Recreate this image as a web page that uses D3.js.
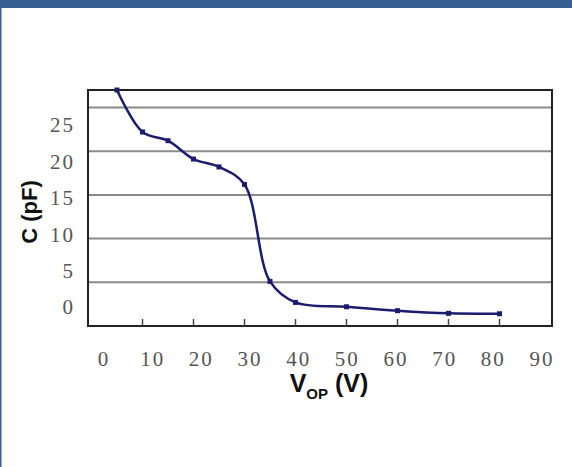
<!DOCTYPE html>
<html>
<head>
<meta charset="utf-8">
<script src="https://cdn.jsdelivr.net/npm/d3@7"></script>
<style>
  body { margin: 0; background: #fff; }
  svg { display: block; }
</style>
</head>
<body>
<div id="chart"></div>
<script>
// measured points, voltage (V) vs capacitance (pF)
const voltage = [5, 10, 15, 20, 25, 30, 35, 40, 50, 60, 70, 80];
const capacitance = [27.0, 22.2, 21.2, 19.1, 18.2, 16.2, 5.1, 2.7, 2.2, 1.75, 1.45, 1.4];
const gridValues = [5, 10, 15, 20, 25];
const xTickValues = [10, 20, 30, 40, 50, 60, 70, 80];
const xLabels = [0, 10, 20, 30, 40, 50, 60, 70, 80, 90];
const yLabels = [0, 5, 10, 15, 20, 25];

const width = 572, height = 467;
const box = { left: 88, right: 552, top: 90, bottom: 326 };

const svg = d3.select("#chart").append("svg")
    .attr("width", width)
    .attr("height", height);

// frame of the page
svg.append("rect").attr("x", 0).attr("y", 0).attr("width", width).attr("height", 8).attr("fill", "#375f91");
svg.append("rect").attr("x", 0).attr("y", 0).attr("width", 1.5).attr("height", height).attr("fill", "#375f91");

const x = d3.scaleLinear().domain([0, 90]).range([91.5, 550.5]);
const y = d3.scaleLinear().domain([0, 25]).range([box.bottom, 107.5]);

// the tick labels sit a bit off the grid in the original
const xLab = d3.scaleLinear().domain([0, 90]).range([104, 542]);
const yLab = d3.scaleLinear().domain([0, 25]).range([307, 125]);

// grid lines
svg.append("g").selectAll("line")
    .data(gridValues)
    .join("line")
    .attr("x1", box.left).attr("x2", box.right)
    .attr("y1", d => y(d)).attr("y2", d => y(d))
    .attr("stroke", "#8a8a8a")
    .attr("stroke-width", 2);

// plot border
svg.append("rect")
    .attr("x", box.left).attr("y", box.top)
    .attr("width", box.right - box.left)
    .attr("height", box.bottom - box.top)
    .attr("fill", "none")
    .attr("stroke", "#222")
    .attr("stroke-width", 2);

// x ticks pointing inside
svg.append("g").selectAll("line")
    .data(xTickValues)
    .join("line")
    .attr("x1", d => x(d)).attr("x2", d => x(d))
    .attr("y1", box.bottom).attr("y2", box.bottom - 7)
    .attr("stroke", "#444")
    .attr("stroke-width", 1.5);

// tick labels
svg.append("g").selectAll("text")
    .data(xLabels)
    .join("text")
    .attr("x", d => xLab(d))
    .attr("y", 366)
    .attr("text-anchor", "middle")
    .style("font-family", "'Liberation Serif', serif")
    .style("font-size", "21px")
    .style("letter-spacing", "2px")
    .attr("fill", "#555")
    .text(d => d);

svg.append("g").selectAll("text")
    .data(yLabels)
    .join("text")
    .attr("x", 75)
    .attr("y", d => yLab(d))
    .attr("dy", "0.35em")
    .attr("text-anchor", "end")
    .style("font-family", "'Liberation Serif', serif")
    .style("font-size", "21px")
    .style("letter-spacing", "2px")
    .attr("fill", "#555")
    .text(d => d);

// axis titles
svg.append("text")
    .attr("transform", "translate(37,212) rotate(-90)")
    .attr("text-anchor", "middle")
    .style("font-family", "'Liberation Sans', Arial, sans-serif")
    .style("font-weight", "bold")
    .style("font-size", "22px")
    .attr("fill", "#111")
    .text("C (pF)");

const xTitle = svg.append("text")
    .attr("x", 329)
    .attr("y", 392)
    .attr("text-anchor", "middle")
    .style("font-family", "'Liberation Sans', Arial, sans-serif")
    .style("font-weight", "bold")
    .style("font-size", "25px")
    .attr("fill", "#111");
xTitle.append("tspan").text("V");
xTitle.append("tspan").attr("dy", 7).style("font-size", "15px").text("OP");
xTitle.append("tspan").attr("dy", -7).text(" (V)");

// curve and markers
const pts = voltage.map((v, i) => [v, capacitance[i]]);
const line = d3.line()
    .x(d => x(d[0]))
    .y(d => y(d[1]))
    .curve(d3.curveCatmullRom.alpha(0.5));

svg.append("path")
    .datum(pts)
    .attr("d", line)
    .attr("fill", "none")
    .attr("stroke", "#1c1c6e")
    .attr("stroke-width", 2.5);

svg.append("g").selectAll("rect")
    .data(pts)
    .join("rect")
    .attr("x", d => x(d[0]) - 2.5)
    .attr("y", d => y(d[1]) - 2.5)
    .attr("width", 5)
    .attr("height", 5)
    .attr("fill", "#1c1c6e");
</script>
</body>
</html>
